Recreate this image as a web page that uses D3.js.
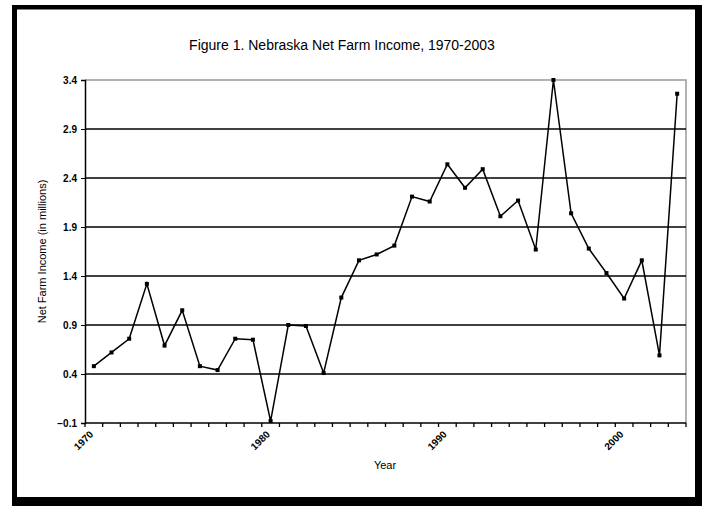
<!DOCTYPE html>
<html>
<head>
<meta charset="utf-8">
<script src="https://cdn.jsdelivr.net/npm/d3@7"></script>
<style>
  body { margin: 0; background: #fff; }
  svg { display: block; font-family: "Liberation Sans", Arial, sans-serif; }
</style>
</head>
<body>
<svg width="702" height="508"></svg>
<script>
//Chart data
const years = [1970, 1971, 1972, 1973, 1974, 1975, 1976, 1977, 1978, 1979,
               1980, 1981, 1982, 1983, 1984, 1985, 1986, 1987, 1988, 1989,
               1990, 1991, 1992, 1993, 1994, 1995, 1996, 1997, 1998, 1999,
               2000, 2001, 2002, 2003];
const income = [0.48, 0.62, 0.76, 1.32, 0.69, 1.05, 0.48, 0.44, 0.76, 0.75,
                -0.08, 0.90, 0.89, 0.41, 1.18, 1.56, 1.62, 1.71, 2.21, 2.16,
                2.54, 2.30, 2.49, 2.01, 2.17, 1.67, 3.40, 2.04, 1.68, 1.43,
                1.17, 1.56, 0.59, 3.26];
const yTicks = [-0.1, 0.4, 0.9, 1.4, 1.9, 2.4, 2.9, 3.4];
const yearLabels = [1970, 1980, 1990, 2000];

const svg = d3.select("svg");
const data = years.map((y, i) => ({year: y, value: income[i]}));

//Plot area
const plotLeft = 85, plotRight = 686, plotTop = 80, plotBottom = 423;

//Outer black frame (thicker on the right and bottom)
svg.append("path")
    .attr("d", "M12,5H702V506H12Z M17,9.5V497H695V9.5Z")
    .attr("fill", "#000")
    .attr("fill-rule", "evenodd");

//Title
svg.append("text")
    .attr("x", 342)
    .attr("y", 50)
    .attr("text-anchor", "middle")
    .attr("font-size", "14px")
    .text("Figure 1. Nebraska Net Farm Income, 1970-2003");

//Scales
const x = d3.scaleBand()
    .domain(years)
    .range([plotLeft, plotRight])
    .padding(0);

const y = d3.scaleLinear()
    .domain([-0.1, 3.4])
    .range([plotBottom, plotTop]);

//Gray plot border (top and right)
svg.append("path")
    .attr("d", `M${plotLeft},${plotTop}H${plotRight}V${plotBottom}`)
    .attr("fill", "none")
    .attr("stroke", "#999")
    .attr("stroke-width", 1.5);

//Gridlines
svg.append("g")
    .selectAll("line")
    .data(yTicks.filter(t => t > -0.1 && t < 3.4))
    .enter()
    .append("line")
    .attr("x1", plotLeft)
    .attr("x2", plotRight)
    .attr("y1", d => y(d))
    .attr("y2", d => y(d))
    .attr("stroke", "#000")
    .attr("stroke-width", 1.4);

//Y axis
const yAxis = svg.append("g")
    .attr("transform", `translate(${plotLeft},0)`)
    .call(d3.axisLeft(y).tickValues(yTicks).tickSize(4).tickFormat(d3.format(".1f")));
yAxis.select(".domain").attr("stroke-width", 1.5);
yAxis.selectAll("text")
    .attr("font-size", "10px")
    .attr("font-family", "Liberation Sans, Arial, sans-serif")
    .attr("font-weight", "bold")
    .attr("x", -8);

//X axis: ticks on category boundaries
const xAxis = svg.append("g")
    .attr("transform", `translate(0,${plotBottom})`);
xAxis.append("line")
    .attr("x1", plotLeft)
    .attr("x2", plotRight)
    .attr("stroke", "#000")
    .attr("stroke-width", 1.5);
xAxis.selectAll(".tickMark")
    .data(years.concat([null]))
    .enter()
    .append("line")
    .attr("class", "tickMark")
    .attr("x1", (d, i) => plotLeft + i * x.bandwidth())
    .attr("x2", (d, i) => plotLeft + i * x.bandwidth())
    .attr("y1", 0)
    .attr("y2", 4)
    .attr("stroke", "#000")
    .attr("stroke-width", 1.3);

//Rotated year labels
xAxis.selectAll(".yearLabel")
    .data(yearLabels)
    .enter()
    .append("text")
    .attr("class", "yearLabel")
    .attr("font-size", "10px")
    .attr("font-weight", "bold")
    .attr("text-anchor", "end")
    .attr("transform", d => `translate(${x(d) + x.bandwidth() / 2},12) rotate(-45)`)
    .text(d => d);

//Axis titles
svg.append("text")
    .attr("x", 385)
    .attr("y", 469)
    .attr("text-anchor", "middle")
    .attr("font-size", "11px")
    .text("Year");

svg.append("text")
    .attr("transform", `translate(46,${(plotTop + plotBottom) / 2}) rotate(-90)`)
    .attr("text-anchor", "middle")
    .attr("font-size", "11px")
    .text("Net Farm Income (in millions)");

//Line
const line = d3.line()
    .x(d => x(d.year) + x.bandwidth() / 2)
    .y(d => y(d.value));

svg.append("path")
    .datum(data)
    .attr("d", line)
    .attr("fill", "none")
    .attr("stroke", "#000")
    .attr("stroke-width", 1.5);

//Square markers
svg.selectAll(".marker")
    .data(data)
    .enter()
    .append("rect")
    .attr("class", "marker")
    .attr("x", d => x(d.year) + x.bandwidth() / 2 - 2)
    .attr("y", d => y(d.value) - 2)
    .attr("width", 4)
    .attr("height", 4)
    .attr("fill", "#000");
</script>
</body>
</html>
